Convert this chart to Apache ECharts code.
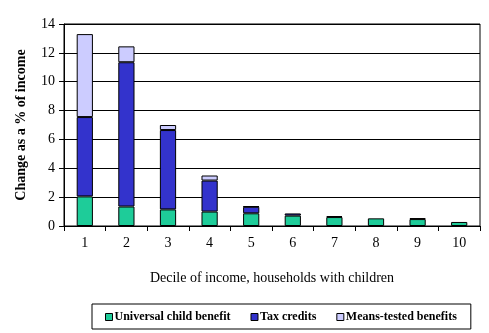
<!DOCTYPE html>
<html><head><meta charset="utf-8">
<script src="https://cdn.jsdelivr.net/npm/echarts@6/dist/echarts.min.js"></script>
<style>html,body{margin:0;padding:0;background:#fff}#c{width:489px;height:333px}</style>
</head><body><div id="c"></div>
<script>
const categories = ['1','2','3','4','5','6','7','8','9','10'];
const universalChildBenefit = [2.05, 1.35, 1.15, 1.0, 0.88, 0.72, 0.62, 0.53, 0.48, 0.28];
const taxCredits = [5.5, 10.0, 5.5, 2.15, 0.45, 0.15, 0.07, null, 0.06, null];
const meansTested = [5.75, 1.1, 0.35, 0.35, 0.04, null, null, null, null, null];
const yTicks = [0, 2, 4, 6, 8, 10, 12, 14];

const font = '"Liberation Serif", "Times New Roman", serif';
const chart = echarts.init(document.getElementById('c'), null, {renderer: 'canvas'});
const barStyle = c => ({color: c, borderColor: '#000', borderWidth: 1});
chart.setOption({
  animation: false,
  textStyle: {fontFamily: font},
  grid: {left: 64, right: 9, top: 24, bottom: 107, show: true, borderColor: '#000', borderWidth: 1},
  xAxis: {
    type: 'category', data: categories,
    name: 'Decile of income, households with children',
    nameLocation: 'middle', nameGap: 45,
    nameTextStyle: {fontFamily: font, fontSize: 14, color: '#000'},
    axisLine: {lineStyle: {color: '#000', width: 1}},
    axisTick: {show: true, length: 5, inside: false, lineStyle: {color: '#000'}},
    axisLabel: {fontFamily: font, fontSize: 14, color: '#000', margin: 10}
  },
  yAxis: {
    type: 'value', min: yTicks[0], max: yTicks[yTicks.length - 1], interval: 2,
    name: 'Change as a % of income', nameLocation: 'middle', nameGap: 36,
    nameTextStyle: {fontFamily: font, fontSize: 14, fontWeight: 'bold', color: '#000'},
    axisLine: {show: true, lineStyle: {color: '#000'}},
    axisTick: {show: true, length: 5, lineStyle: {color: '#000'}},
    axisLabel: {fontFamily: font, fontSize: 14, color: '#000', margin: 9},
    splitLine: {lineStyle: {color: '#000', width: 1}}
  },
  legend: {
    bottom: 4, left: 92,
    data: ['Universal child benefit', 'Tax credits', 'Means-tested benefits'],
    icon: 'rect', itemWidth: 7, itemHeight: 7, itemGap: 20,
    borderColor: '#000', borderWidth: 1, padding: [7, 14, 6, 13],
    textStyle: {fontFamily: font, fontSize: 12, fontWeight: 'bold', color: '#000', padding: [0, 0, 0, -3]},
    itemStyle: {borderColor: '#000', borderWidth: 1}
  },
  series: [
    {name: 'Universal child benefit', type: 'bar', stack: 's', data: universalChildBenefit, barWidth: '39%', itemStyle: barStyle('#1ECC99')},
    {name: 'Tax credits', type: 'bar', stack: 's', data: taxCredits, itemStyle: barStyle('#3333CC')},
    {name: 'Means-tested benefits', type: 'bar', stack: 's', data: meansTested, itemStyle: barStyle('#CCCCFF')}
  ]
});
</script></body></html>
